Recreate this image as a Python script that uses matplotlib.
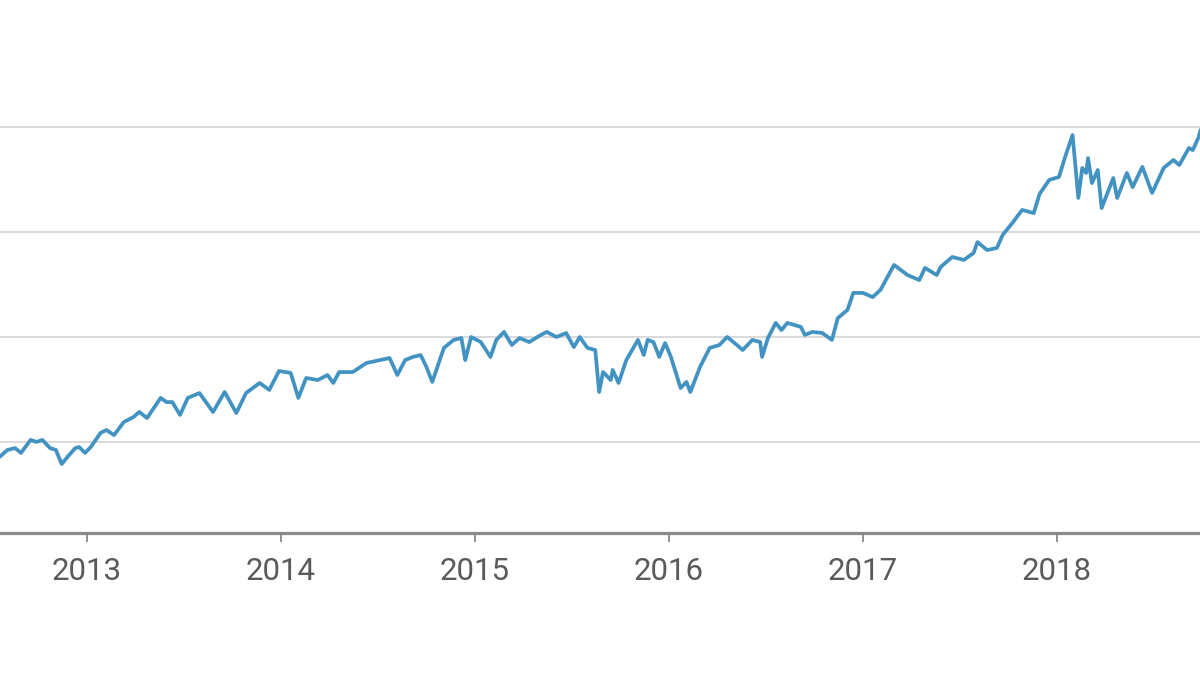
import numpy as np
import matplotlib
matplotlib.use("Agg")
import matplotlib.pyplot as plt

# Index level, x as decimal year
years = [2012.55, 2012.59, 2012.63, 2012.66, 2012.71, 2012.74, 2012.77, 2012.81, 2012.84, 2012.87,
         2012.90, 2012.94, 2012.96, 2012.99, 2013.02, 2013.07, 2013.10, 2013.14, 2013.19, 2013.24,
         2013.27, 2013.31, 2013.38, 2013.41, 2013.44, 2013.48, 2013.52, 2013.58, 2013.65, 2013.71,
         2013.77, 2013.82, 2013.89, 2013.94, 2013.99, 2014.05, 2014.09, 2014.13, 2014.19, 2014.24,
         2014.27, 2014.30, 2014.37, 2014.44, 2014.51, 2014.56, 2014.60, 2014.64, 2014.68, 2014.72,
         2014.75, 2014.78, 2014.84, 2014.89, 2014.93, 2014.95, 2014.98, 2015.03, 2015.08, 2015.11,
         2015.15, 2015.19, 2015.23, 2015.28, 2015.34, 2015.37, 2015.42, 2015.47, 2015.51, 2015.54,
         2015.58, 2015.62, 2015.64, 2015.66, 2015.70, 2015.71, 2015.74, 2015.78, 2015.84, 2015.87,
         2015.89, 2015.92, 2015.95, 2015.98, 2016.01, 2016.06, 2016.09, 2016.11, 2016.16, 2016.21,
         2016.26, 2016.30, 2016.35, 2016.38, 2016.43, 2016.47, 2016.48, 2016.51, 2016.55, 2016.58,
         2016.61, 2016.68, 2016.70, 2016.74, 2016.79, 2016.84, 2016.87, 2016.92, 2016.95, 2017.00,
         2017.05, 2017.09, 2017.16, 2017.23, 2017.29, 2017.32, 2017.38, 2017.40, 2017.46, 2017.52,
         2017.57, 2017.59, 2017.64, 2017.69, 2017.72, 2017.77, 2017.82, 2017.88, 2017.91, 2017.96,
         2018.01, 2018.04, 2018.08, 2018.11, 2018.13, 2018.15, 2018.16, 2018.18, 2018.21, 2018.23,
         2018.26, 2018.29, 2018.31, 2018.36, 2018.39, 2018.44, 2018.49, 2018.55, 2018.60, 2018.63,
         2018.68, 2018.70, 2018.73, 2018.74]
level = [1429, 1462, 1471, 1448, 1510, 1500, 1510, 1471, 1462, 1395,
         1429, 1471, 1476, 1448, 1476, 1543, 1557, 1533, 1595, 1619,
         1643, 1614, 1710, 1690, 1690, 1629, 1710, 1733, 1643, 1738,
         1638, 1733, 1781, 1748, 1838, 1829, 1710, 1805, 1795, 1819,
         1781, 1833, 1833, 1876, 1890, 1900, 1819, 1890, 1905, 1914,
         1857, 1786, 1948, 1986, 1995, 1890, 2000, 1976, 1905, 1986,
         2024, 1962, 1995, 1976, 2010, 2024, 2000, 2019, 1952, 2000,
         1948, 1938, 1738, 1833, 1795, 1843, 1781, 1890, 1986, 1914,
         1986, 1976, 1905, 1971, 1905, 1757, 1786, 1738, 1857, 1948,
         1962, 2000, 1962, 1938, 1986, 1976, 1905, 1995, 2067, 2033,
         2067, 2048, 2010, 2024, 2019, 1986, 2090, 2129, 2210, 2210,
         2190, 2224, 2343, 2295, 2271, 2329, 2295, 2333, 2381, 2367,
         2400, 2452, 2414, 2424, 2486, 2543, 2605, 2590, 2681, 2748,
         2762, 2852, 2962, 2662, 2805, 2781, 2852, 2733, 2795, 2614,
         2686, 2757, 2662, 2781, 2714, 2810, 2686, 2805, 2843, 2819,
         2900, 2890, 2952, 2986]

year_ticks = [2013, 2014, 2015, 2016, 2017, 2018]
grid_levels = [1500, 2000, 2500, 3000]

fig = plt.figure(figsize=(12, 6.75), dpi=100)
ax = fig.add_axes([0, 0.2104, 1, 0.7896])

for g in grid_levels:
    ax.axhline(g, color="#d9d9d9", lw=1.4, zorder=1)

ax.plot(years, level, color="#4393c2", lw=2.7, zorder=3,
        solid_joinstyle="round", solid_capstyle="round")

ax.set_xlim(2012.552, 2018.737)
ax.set_ylim(1066.7, 3604.8)

for side in ["top", "left", "right"]:
    ax.spines[side].set_visible(False)
ax.spines["bottom"].set_color("#8a8a8a")
ax.spines["bottom"].set_linewidth(2.3)

ax.set_yticks([])
ax.set_xticks(year_ticks)
ax.set_xticklabels([str(y) for y in year_ticks], fontsize=22.5, color="#5a5a5a",
                   fontfamily="Roboto")
ax.tick_params(axis="x", length=6.5, width=1.3, color="#8a8a8a", pad=10.5)

fig.savefig("out.png", dpi=100, facecolor="white")
